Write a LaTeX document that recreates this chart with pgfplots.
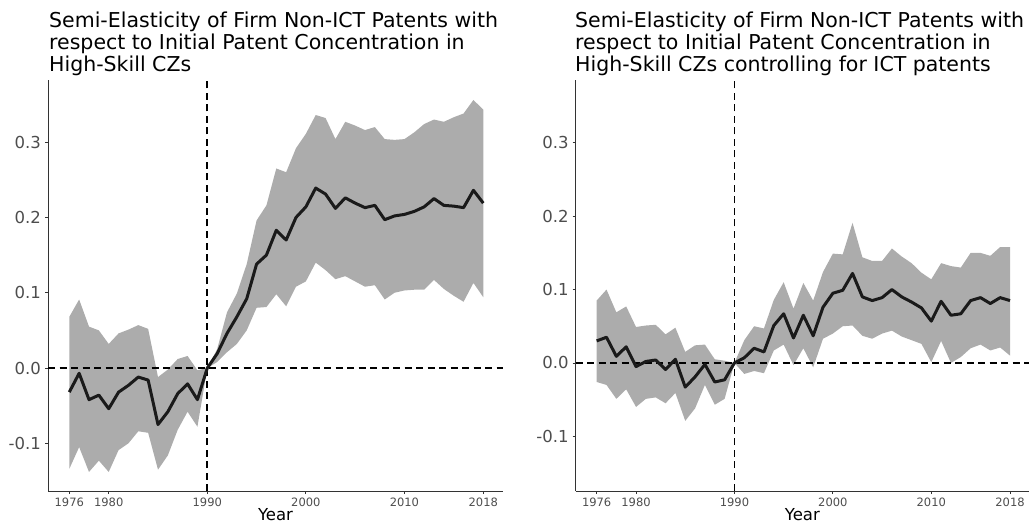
\documentclass[border=0pt]{standalone}
\usepackage{fontspec}
\setmainfont{DejaVu Sans}
\usepackage{pgfplots}
\usepackage{pgfplotstable}
\pgfplotsset{compat=1.18}
\definecolor{bandGray}{HTML}{ACACAC}
\definecolor{lineBlack}{HTML}{1A1A1A}
\definecolor{axisGray}{HTML}{333333}
\definecolor{tickGray}{HTML}{4D4D4D}

% point estimates
\pgfplotstableread{
year est
1976 -0.032
1977 -0.007
1978 -0.042
1979 -0.036
1980 -0.054
1981 -0.032
1982 -0.023
1983 -0.012
1984 -0.016
1985 -0.075
1986 -0.058
1987 -0.034
1988 -0.021
1989 -0.042
1990 0
1991 0.019
1992 0.046
1993 0.068
1994 0.092
1995 0.138
1996 0.150
1997 0.183
1998 0.170
1999 0.200
2000 0.214
2001 0.239
2002 0.231
2003 0.212
2004 0.226
2005 0.219
2006 0.213
2007 0.216
2008 0.197
2009 0.202
2010 0.204
2011 0.208
2012 0.214
2013 0.225
2014 0.216
2015 0.215
2016 0.213
2017 0.236
2018 0.219
}\leftest

% confidence band: upper bound forward, lower bound back
\pgfplotstableread{
year ci
1976 0.068
1977 0.091
1978 0.055
1979 0.050
1980 0.032
1981 0.046
1982 0.051
1983 0.057
1984 0.052
1985 -0.012
1986 -0.002
1987 0.012
1988 0.016
1989 -0.003
1990 0
1991 0.025
1992 0.074
1993 0.099
1994 0.138
1995 0.196
1996 0.216
1997 0.265
1998 0.260
1999 0.292
2000 0.311
2001 0.336
2002 0.332
2003 0.304
2004 0.327
2005 0.322
2006 0.316
2007 0.320
2008 0.304
2009 0.303
2010 0.304
2011 0.313
2012 0.324
2013 0.330
2014 0.327
2015 0.333
2016 0.338
2017 0.356
2018 0.343
2018 0.094
2017 0.113
2016 0.088
2015 0.096
2014 0.105
2013 0.117
2012 0.104
2011 0.104
2010 0.103
2009 0.100
2008 0.091
2007 0.110
2006 0.108
2005 0.115
2004 0.122
2003 0.118
2002 0.130
2001 0.140
2000 0.115
1999 0.108
1998 0.082
1997 0.098
1996 0.081
1995 0.080
1994 0.050
1993 0.032
1992 0.021
1991 0.008
1990 0
1989 -0.078
1988 -0.058
1987 -0.082
1986 -0.116
1985 -0.135
1984 -0.086
1983 -0.084
1982 -0.100
1981 -0.109
1980 -0.138
1979 -0.123
1978 -0.138
1977 -0.105
1976 -0.134
}\leftband

\pgfplotstableread{
year est
1976 0.030
1977 0.035
1978 0.009
1979 0.022
1980 -0.005
1981 0.002
1982 0.004
1983 -0.009
1984 0.005
1985 -0.033
1986 -0.019
1987 -0.002
1988 -0.026
1989 -0.023
1990 0
1991 0.007
1992 0.020
1993 0.015
1994 0.051
1995 0.067
1996 0.034
1997 0.065
1998 0.037
1999 0.076
2000 0.095
2001 0.099
2002 0.122
2003 0.090
2004 0.085
2005 0.089
2006 0.100
2007 0.090
2008 0.083
2009 0.075
2010 0.057
2011 0.084
2012 0.065
2013 0.067
2014 0.085
2015 0.089
2016 0.081
2017 0.089
2018 0.085
}\rightest

\pgfplotstableread{
year ci
1976 0.085
1977 0.100
1978 0.069
1979 0.077
1980 0.049
1981 0.051
1982 0.052
1983 0.039
1984 0.048
1985 0.015
1986 0.024
1987 0.025
1988 0.005
1989 0.003
1990 0
1991 0.031
1992 0.050
1993 0.047
1994 0.086
1995 0.110
1996 0.074
1997 0.109
1998 0.085
1999 0.124
2000 0.149
2001 0.148
2002 0.191
2003 0.144
2004 0.139
2005 0.139
2006 0.156
2007 0.145
2008 0.136
2009 0.123
2010 0.114
2011 0.136
2012 0.132
2013 0.130
2014 0.150
2015 0.150
2016 0.146
2017 0.158
2018 0.158
2018 0.010
2017 0.021
2016 0.017
2015 0.025
2014 0.020
2013 0.008
2012 0.000
2011 0.030
2010 0.001
2009 0.026
2008 0.031
2007 0.036
2006 0.044
2005 0.040
2004 0.033
2003 0.037
2002 0.051
2001 0.050
2000 0.040
1999 0.033
1998 -0.006
1997 0.020
1996 -0.003
1995 0.025
1994 0.017
1993 -0.014
1992 -0.011
1991 -0.015
1990 0
1989 -0.049
1988 -0.057
1987 -0.030
1986 -0.062
1985 -0.079
1984 -0.041
1983 -0.055
1982 -0.047
1981 -0.049
1980 -0.060
1979 -0.036
1978 -0.049
1977 -0.030
1976 -0.026
}\rightband

\pgfplotsset{
    panel/.style={
        scale only axis,
        height=411pt,
        axis x line*=bottom, axis y line*=left,
        axis line style={color=axisGray, line width=1pt},
        tick align=outside,
        major tick length=3pt,
        tick style={color=axisGray, line width=0.8pt},
        xtick={1976,1980,1990,2000,2010,2018},
        xticklabels={1976,1980,1990,2000,2010,2018},
        ytick={-0.1,0,0.1,0.2,0.3},
        yticklabels={-0.1,0.0,0.1,0.2,0.3},
        xticklabel style={font=\fontsize{11.5}{12}\selectfont, text=tickGray, inner sep=0pt, yshift=-4pt},
        yticklabel style={font=\fontsize{16.5}{18}\selectfont, text=tickGray, inner sep=0pt, xshift=-4pt},
        xlabel={Year},
        xlabel style={font=\fontsize{16.5}{18}\selectfont, anchor=base, yshift=-14pt},
    },
    band/.style={fill=bandGray, draw=none},
    refline/.style={black, line width=1.6pt, dash pattern=on 7pt off 4.5pt},
    estline/.style={lineBlack, line width=3pt, line join=round},
}

\begin{document}
\begin{tikzpicture}
\path[use as bounding box] (0,0) rectangle (1029pt,523pt);

% left panel
\begin{axis}[panel, at={(48pt,32pt)}, anchor=south west, width=455pt,
    xmin=1973.84, xmax=2020.0, ymin=-0.1633, ymax=0.3825]
\addplot[band] table[x=year, y=ci] {\leftband} -- cycle;
\addplot[refline] coordinates {(1973.84,0) (2020.0,0)};
\addplot[refline] coordinates {(1990,-0.1633) (1990,0.3825)};
\addplot[estline] table[x=year, y=est] {\leftest};
\end{axis}

% right panel
\begin{axis}[panel, at={(575.7pt,32pt)}, anchor=south west, width=453.3pt,
    xmin=1973.87, xmax=2019.93, ymin=-0.1746, ymax=0.3857]
\addplot[band] table[x=year, y=ci] {\rightband} -- cycle;
\addplot[refline] coordinates {(1973.87,0) (2019.93,0)};
\addplot[refline] coordinates {(1990,-0.1746) (1990,0.3857)};
\addplot[estline] table[x=year, y=est] {\rightest};
\end{axis}

% titles
\begin{scope}[every node/.style={anchor=base west, inner sep=0pt, font=\fontsize{20.5}{22}\selectfont, text=black}]
\node at (49pt,495pt) {Semi-Elasticity of Firm Non-ICT Patents with};
\node at (49pt,473pt) {respect to Initial Patent Concentration in};
\node at (49pt,451pt) {High-Skill CZs};
\node at (575pt,495pt) {Semi-Elasticity of Firm Non-ICT Patents with};
\node at (575pt,473pt) {respect to Initial Patent Concentration in};
\node at (575pt,451pt) {High-Skill CZs controlling for ICT patents};
\end{scope}
\end{tikzpicture}
\end{document}
